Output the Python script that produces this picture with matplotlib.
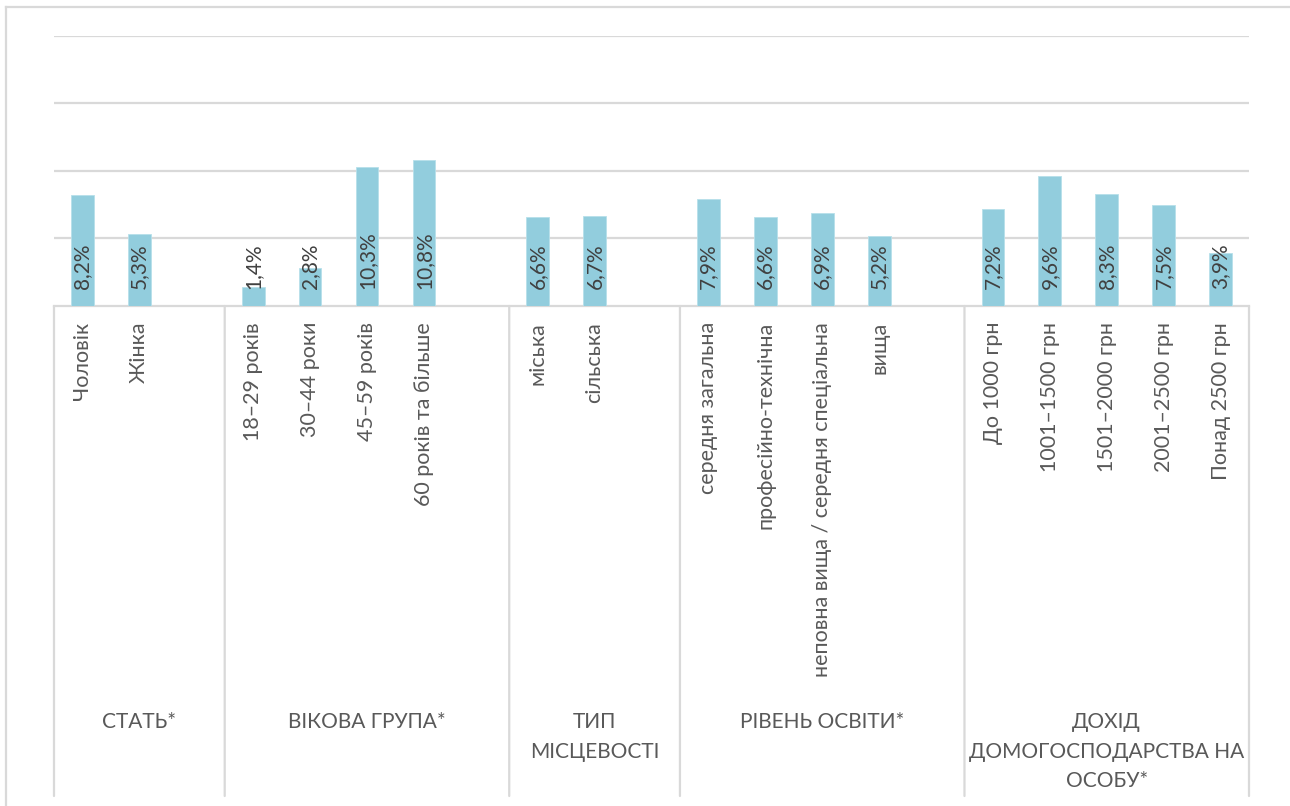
import matplotlib.pyplot as plt
from matplotlib.lines import Line2D

plt.rcParams['font.family'] = ['Lato', 'DejaVu Sans']

groups = ["СТАТЬ*", "ВІКОВА ГРУПА*", "ТИП\nМІСЦЕВОСТІ", "РІВЕНЬ ОСВІТИ*",
          "ДОХІД\nДОМОГОСПОДАРСТВА НА\nОСОБУ*"]
categories = [
    ["Чоловік", "Жінка"],
    ["18–29 років", "30–44 роки", "45–59 років", "60 років та більше"],
    ["міська", "сільська"],
    ["середня загальна", "професійно-технічна",
     "неповна вища / середня спеціальна", "вища"],
    ["До 1000 грн", "1001–1500 грн", "1501–2000 грн", "2001–2500 грн",
     "Понад 2500 грн"],
]
values = [
    [8.2, 5.3],
    [1.4, 2.8, 10.3, 10.8],
    [6.6, 6.7],
    [7.9, 6.6, 6.9, 5.2],
    [7.2, 9.6, 8.3, 7.5, 3.9],
]

bar_color = "#92cddd"
grid_color = "#d9d9d9"
label_color = "#404040"
cat_color = "#595959"

fig = plt.figure(figsize=(12.9, 8.06), dpi=100)
W, H = 1290, 806
ax = fig.add_axes([54 / W, 1 - 306 / H, (1249 - 54) / W, (306 - 36) / H])

# every group gets one empty slot after it, except the last
xs, labels, vals, bounds = [], [], [], [-0.5]
pos = 0
for gi, (cats, vs) in enumerate(zip(categories, values)):
    for c, v in zip(cats, vs):
        xs.append(pos)
        labels.append(c)
        vals.append(v)
        pos += 1
    if gi < len(groups) - 1:
        pos += 1
    bounds.append(pos - 0.5)

ax.bar(xs, vals, width=0.4, color=bar_color, edgecolor="#b7e0ea", linewidth=0.6,
       zorder=3)
ax.set_xlim(-0.5, pos - 0.5)
ax.set_ylim(0, 20)
ax.set_yticks([5, 10, 15, 20])
ax.yaxis.grid(True, color=grid_color, linewidth=1.6)
ax.set_axisbelow(True)
ax.tick_params(left=False, bottom=False, labelleft=False, labelbottom=False)
for s in ["left", "right", "top"]:
    ax.spines[s].set_visible(False)
ax.spines["bottom"].set_color(grid_color)
ax.spines["bottom"].set_linewidth(1.6)

for x, v, lab in zip(xs, vals, labels):
    ax.annotate(f"{v:.1f}".replace(".", ",") + "%", xy=(x, 0), xytext=(0, 17),
                textcoords="offset pixels", rotation=90, ha="center", va="bottom",
                fontsize=15, color=label_color, zorder=4)
    ax.annotate(lab, xy=(x, 0), xytext=(0, -16), textcoords="offset pixels",
                rotation=90, ha="center", va="top", fontsize=15.5, color=cat_color,
                annotation_clip=False)

# group separators and group titles below the axis
for b in bounds:
    ax.annotate("", xy=(b, 0), xytext=(0, -490), textcoords="offset pixels",
                arrowprops=dict(arrowstyle="-", color=grid_color, lw=1.6,
                                shrinkA=0, shrinkB=0),
                annotation_clip=False)
for g, lo, hi in zip(groups, bounds[:-1], bounds[1:]):
    ax.annotate(g, xy=((lo + hi) / 2, 0), xytext=(0, -406),
                textcoords="offset pixels", ha="center", va="top",
                multialignment="center", fontsize=15, color=cat_color,
                linespacing=1.6, annotation_clip=False)

# chart area frame
fig.add_artist(Line2D([6 / W, 1], [1 - 7 / H, 1 - 7 / H], color=grid_color, lw=1.6))
fig.add_artist(Line2D([6 / W, 6 / W], [0, 1 - 7 / H], color=grid_color, lw=1.6))

fig.savefig("out.png", dpi=100, facecolor="white")
